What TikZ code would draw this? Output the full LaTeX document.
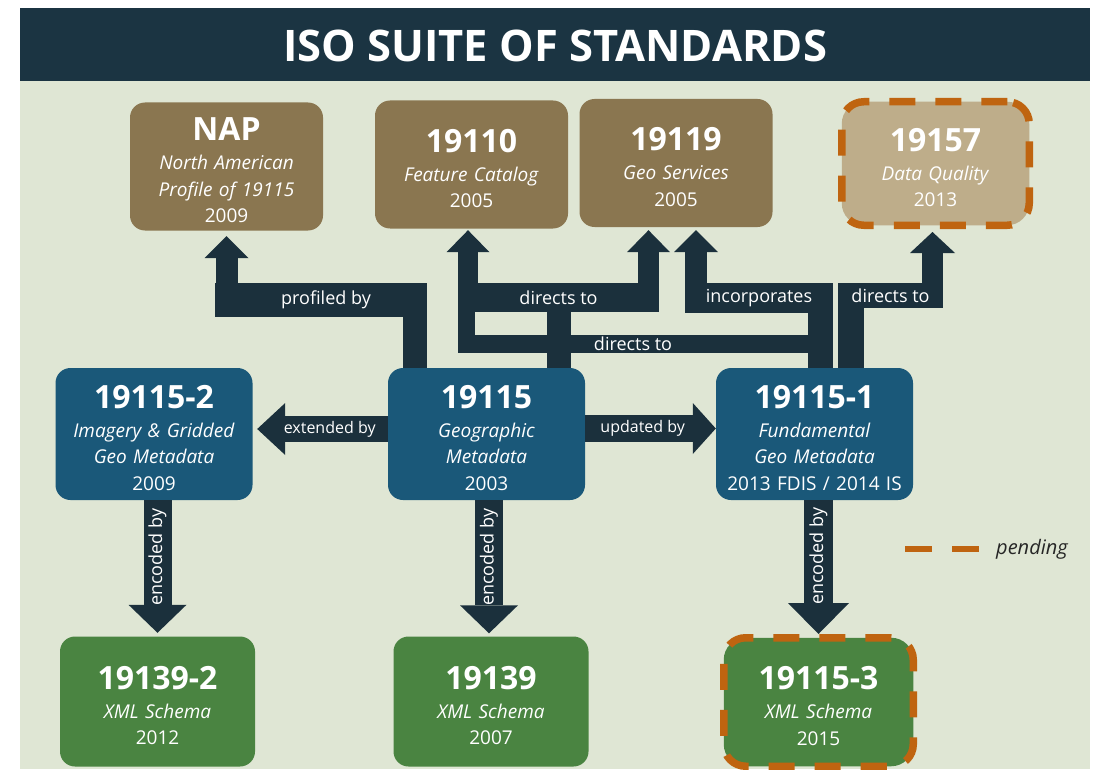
\documentclass[tikz,border=0pt]{standalone}
\usepackage{fontspec}
\setmainfont{Open Sans}
\usetikzlibrary{arrows.meta}

\definecolor{panelgreen}{HTML}{DFE6D4}
\definecolor{bannernavy}{HTML}{1B3442}
\definecolor{arrowdark}{HTML}{1B303C}
\definecolor{napbrown}{HTML}{8A7650}
\definecolor{pendtan}{HTML}{BEAD8A}
\definecolor{metablue}{HTML}{1A5879}
\definecolor{xmlgreen}{HTML}{4A8441}
\definecolor{dashorange}{HTML}{BF6410}

\newcommand{\stdno}[1]{{\fontsize{32}{32}\selectfont\bfseries\rule{0pt}{31pt}#1}\\[2.5pt]}

\tikzset{
  stdbox/.style = {rounded corners=15pt, inner sep=0pt, text=white, align=center,
    text width=180pt, font=\fontsize{19}{26.5}\selectfont},
  brownbox/.style = {stdbox, fill=napbrown, minimum width=193pt, minimum height=128pt},
  tanbox/.style = {stdbox, fill=pendtan, minimum width=187.5pt, minimum height=123.5pt},
  bluebox/.style = {stdbox, fill=metablue, minimum width=197pt, minimum height=132pt},
  greenbox/.style = {stdbox, fill=xmlgreen, minimum width=195pt, minimum height=130pt},
  pendbox/.style = {draw=dashorange, line width=7.5pt, dash pattern=on 26pt off 20pt, rounded corners=22pt},
  band/.style = {fill=arrowdark, text=white, inner sep=0pt, font=\fontsize{18}{18}\selectfont},
  lbl/.style = {text=white, inner sep=0pt, font=\fontsize{#1}{#1}\selectfont},
  conn/.style = {draw=arrowdark, line width=#1},
  blocktip/.style 2 args = {-{Triangle[width=#1, length=#2, line width=0pt]}},
}

\begin{document}
\begin{tikzpicture}[x=1pt, y=-1pt]
    \useasboundingbox (0,0) rectangle (1102,770);
    \fill[panelgreen] (20,8) rectangle (1090,769);
    \node[fill=bannernavy, minimum width=1070pt, minimum height=73pt, inner sep=0pt, text=white,
      text height=34pt, font=\fontsize{43.5}{43.5}\selectfont\bfseries] (title) at (555,44.5) {ISO SUITE OF STANDARDS};

    % standards
    \node[brownbox] (nap) at (226.5,166.5) {\stdno{NAP}\textit{North American}\\\textit{Profile of 19115}\\2009};
    \node[brownbox] (iso110) at (471.5,164.5) {\stdno{19110}\textit{Feature Catalog}\\2005};
    \node[brownbox] (iso119) at (676,163) {\stdno{19119}\textit{Geo Services}\\2005};
    \node[tanbox, pendbox] (iso157) at (935.5,163.5) {\stdno{19157}\textit{Data Quality}\\2013};
    \node[bluebox] (iso1152) at (154,434) {\stdno{19115-2}\textit{Imagery \& Gridded}\\\textit{Geo Metadata}\\2009};
    \node[bluebox] (iso115) at (486.5,434) {\stdno{19115}\textit{Geographic}\\\textit{Metadata}\\2003};
    \node[bluebox] (iso1151) at (814.5,434) {\stdno{19115-1}\textit{Fundamental}\\\textit{Geo Metadata}\\2013 FDIS / 2014 IS};
    \node[greenbox] (iso1392) at (157.5,701.5) {\stdno{19139-2}\textit{XML Schema}\\2012};
    \node[greenbox] (iso139) at (491,701.5) {\stdno{19139}\textit{XML Schema}\\2007};
    \node[greenbox, pendbox, minimum width=189.5pt, minimum height=128.5pt] (iso1153) at (818.5,702) {\stdno{19115-3}\textit{XML Schema}\\2015};

    % label bands
    \node[band, minimum width=212pt, minimum height=34pt] (lprof) at (321,300) {\hspace*{10pt}profiled by};
    \node[band, minimum width=201pt, minimum height=29pt] (ldir1) at (558.5,297.5) {directs to};
    \node[band, minimum width=350pt, minimum height=18pt] (ldir2) at (633,344) {directs to};
    \node[band, minimum width=148pt, minimum height=30pt] (linc) at (759,298) {incorporates};
    \node[band, minimum width=105pt, minimum height=25pt] (ldir3) at (890.5,295.5) {directs to};

    \coordinate (xprof) at (415,0);
    \coordinate (xfc) at (468,0);
    \coordinate (xlow) at (466.5,0);
    \coordinate (xgs1) at (648.5,0);
    \coordinate (xgs2) at (696,0);
    \coordinate (xinc) at (820.5,0);
    \coordinate (xdq1) at (851,0);
    \coordinate (xdq2) at (932.5,0);
    \coordinate (xenc) at (489,0);

    % upward connectors
    \draw[conn=24pt, shorten >=-2pt] (iso115.north -| xprof) -- (lprof.south -| xprof);
    \draw[conn=22pt, blocktip={44pt}{22pt}, shorten <=-2pt, shorten >=5.5pt] (lprof.north -| nap.south) -- (nap.south);
    \draw[conn=24pt, shorten >=-2pt] (iso115.north -| ldir1.south) -- (ldir1.south);
    \draw[conn=20pt, blocktip={43pt}{22pt}, shorten <=-2pt, shorten >=1.5pt] (ldir1.north -| xfc) -- (iso110.south -| xfc);
    \draw[conn=21pt, blocktip={43pt}{22pt}, shorten <=-2pt, shorten >=3pt] (ldir1.north -| xgs1) -- (iso119.south -| xgs1);
    \draw[conn=17pt, shorten <=-2pt, shorten >=-2pt] (ldir2.north -| xlow) -- (ldir1.south -| xlow);
    \draw[conn=25pt, shorten >=-2pt] (iso1151.north -| xinc) -- (linc.south -| xinc);
    \draw[conn=22pt, blocktip={44pt}{22pt}, shorten <=-2pt, shorten >=3pt] (linc.north -| xgs2) -- (iso119.south -| xgs2);
    \draw[conn=26pt, shorten >=-2pt] (iso1151.north -| xdq1) -- (ldir3.south -| xdq1);
    \draw[conn=21pt, blocktip={45pt}{21pt}, shorten <=-2pt, shorten >=3pt] (ldir3.north -| xdq2) -- (iso157.south -| xdq2);

    % sideways connectors
    \draw[conn=26pt, blocktip={52pt}{28pt}, shorten >=4.5pt] ([yshift=5pt]iso115.west) -- ([yshift=5pt]iso1152.east)
      node[lbl=16, pos=0.43] (lext) {extended by};
    \draw[conn=27pt, blocktip={51pt}{23pt}] ([yshift=5.5pt]iso115.east) -- ([yshift=5.5pt]iso1151.west)
      node[lbl=16, pos=0.44] (lupd) {updated by};

    % downward connectors
    \draw[conn=28pt, blocktip={58pt}{28pt}, shorten >=3.5pt] (iso1152.south -| iso1392.north) -- (iso1392.north)
      node[lbl=18, pos=0.42, rotate=90] (lenc1) {encoded by};
    \draw[conn=28pt, blocktip={58pt}{28pt}, shorten >=3pt] (iso115.south -| xenc) -- (iso139.north -| xenc)
      node[lbl=18, pos=0.42, rotate=90] (lenc2) {encoded by};
    \draw[conn=29pt, blocktip={61pt}{31pt}] (iso1151.south -| iso1153.north) -- (iso1153.north)
      node[lbl=18, pos=0.42, rotate=90] (lenc3) {encoded by};

    % legend
    \coordinate (lgd) at (905,549);
    \draw[dashorange, line width=6pt, dash pattern=on 27pt off 20pt] (lgd) -- ++(74,0);
    \node[anchor=west, inner sep=0pt, text=black!85, font=\fontsize{20}{20}\selectfont\itshape] (pending) at (996,549) {pending};
\end{tikzpicture}
\end{document}
